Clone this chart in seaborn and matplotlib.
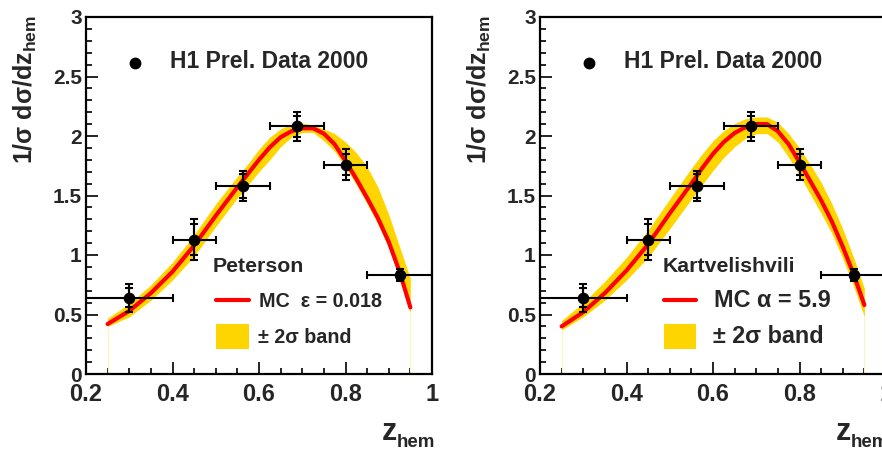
import matplotlib
matplotlib.use("Agg")
import numpy as np
import seaborn as sns
import matplotlib.pyplot as plt
from matplotlib.patches import Rectangle
from matplotlib.ticker import MultipleLocator, FormatStrFormatter

# H1 data points (z_hem bins)
z_data = [0.30, 0.45, 0.5625, 0.6875, 0.80, 0.925]
z_left = [0.20, 0.40, 0.50, 0.625, 0.75, 0.85]
z_right = [0.40, 0.50, 0.625, 0.75, 0.85, 1.00]
dsig = [0.64, 1.13, 1.58, 2.08, 1.76, 0.83]
err_stat = [0.08, 0.13, 0.10, 0.09, 0.09, 0.03]
err_tot = [0.115, 0.17, 0.125, 0.12, 0.13, 0.05]

# MC curves
z_mc = [0.25, 0.30, 0.35, 0.40, 0.45, 0.50, 0.55, 0.575, 0.60, 0.625, 0.65, 0.675,
        0.70, 0.725, 0.75, 0.775, 0.80, 0.825, 0.85, 0.875, 0.90, 0.925, 0.95]

# Peterson, eps = 0.018
pet_mc = [0.42, 0.53, 0.68, 0.86, 1.08, 1.33, 1.57, 1.685, 1.80, 1.905, 1.99, 2.04,
          2.065, 2.065, 2.02, 1.93, 1.79, 1.64, 1.48, 1.31, 1.11, 0.86, 0.56]
pet_hi = [0.47, 0.59, 0.75, 0.94, 1.17, 1.43, 1.66, 1.77, 1.89, 1.99, 2.06, 2.10,
          2.11, 2.09, 2.06, 2.02, 1.95, 1.86, 1.74, 1.57, 1.34, 1.07, 0.80]
pet_lo = [0.40, 0.48, 0.62, 0.79, 0.99, 1.24, 1.48, 1.59, 1.70, 1.80, 1.91, 1.99,
          2.03, 2.03, 1.96, 1.87, 1.74, 1.59, 1.43, 1.26, 1.06, 0.81, 0.51]

# Kartvelishvili, alpha = 5.9
kar_mc = [0.40, 0.52, 0.68, 0.87, 1.09, 1.35, 1.60, 1.73, 1.85, 1.95, 2.025, 2.075,
          2.10, 2.10, 2.04, 1.93, 1.78, 1.62, 1.46, 1.28, 1.07, 0.84, 0.58]
kar_hi = [0.45, 0.60, 0.78, 0.98, 1.21, 1.47, 1.73, 1.85, 1.96, 2.045, 2.105, 2.145,
          2.16, 2.16, 2.115, 2.02, 1.90, 1.76, 1.61, 1.43, 1.22, 0.98, 0.72]
kar_lo = [0.37, 0.48, 0.62, 0.79, 0.98, 1.22, 1.47, 1.59, 1.71, 1.82, 1.91, 1.98,
          2.02, 2.02, 1.95, 1.82, 1.67, 1.51, 1.35, 1.18, 0.97, 0.74, 0.48]

RED = "#ff0000"
YELLOW = "#ffd500"

sns.set_style("white")
plt.rcParams["font.family"] = ["Liberation Sans", "DejaVu Sans"]
plt.rcParams["font.weight"] = "bold"
plt.rcParams["mathtext.fontset"] = "custom"
plt.rcParams["mathtext.rm"] = "Liberation Sans:bold"
plt.rcParams["mathtext.it"] = "Liberation Sans:bold"
plt.rcParams["mathtext.bf"] = "Liberation Sans:bold"

fig = plt.figure(figsize=(8.82, 4.5), dpi=100)


def draw_panel(ax, mc, lo, hi, model, mc_text, leg):
    xl = np.array(z_left)
    xr = np.array(z_right)
    xc = np.array(z_data)

    ax.fill_between(z_mc, lo, hi, color=YELLOW, lw=0, zorder=1)
    ax.vlines([z_mc[0], z_mc[-1]], 0, [lo[0], lo[-1]], color="#fff3b8", lw=0.8, zorder=1)
    sns.lineplot(x=z_mc, y=mc, ax=ax, color=RED, lw=3, zorder=2)

    ax.errorbar(xc, dsig, xerr=[xc - xl, xr - xc], yerr=err_tot, fmt="none",
                ecolor="k", elinewidth=1.5, capsize=3, capthick=1.5, zorder=3)
    ax.errorbar(xc, dsig, yerr=err_stat, fmt="none",
                ecolor="k", elinewidth=1.5, capsize=3, capthick=1.5, zorder=3)
    sns.scatterplot(x=z_data, y=dsig, ax=ax, color="k", s=60, edgecolor="k", zorder=4)

    ax.set_xlim(0.2, 1.0)
    ax.set_ylim(0, 3)
    ax.xaxis.set_major_locator(MultipleLocator(0.2))
    ax.xaxis.set_minor_locator(MultipleLocator(0.05))
    ax.yaxis.set_major_locator(MultipleLocator(0.5))
    ax.yaxis.set_minor_locator(MultipleLocator(0.1))
    ax.xaxis.set_major_formatter(FormatStrFormatter("%g"))
    ax.yaxis.set_major_formatter(FormatStrFormatter("%g"))
    ax.tick_params(which="both", direction="in", top=False, right=False,
                   bottom=True, left=True, width=1.2, color="k")
    ax.tick_params(which="major", length=8.5)
    ax.tick_params(which="minor", length=4.3)
    ax.tick_params(axis="x", which="major", labelsize=17, pad=6.5)
    ax.tick_params(axis="y", which="major", labelsize=15, pad=3)
    for lab in ax.get_xticklabels() + ax.get_yticklabels():
        lab.set_fontweight("bold")
    for sp in ax.spines.values():
        sp.set_visible(True)
        sp.set_color("k")
        sp.set_linewidth(1.6)
    ax.set_xlabel("")
    ax.set_ylabel("")

    # axis titles
    ax.text(-0.175, 1.006, "1/σ dσ/dz$_{\\mathrm{hem}}$", transform=ax.transAxes,
            rotation=90, ha="center", va="top", fontsize=18, fontweight="bold")
    ax.text(0.899, -0.185, "z", transform=ax.transAxes,
            ha="right", va="baseline", fontsize=22, fontweight="bold")
    ax.text(0.899, -0.2045, "hem", transform=ax.transAxes,
            ha="left", va="baseline", fontsize=13.5, fontweight="bold")

    # legend block
    ax.plot([0.1416], [0.871], "o", color="k", ms=7.5, transform=ax.transAxes,
            clip_on=False)
    ax.text(0.2428, 0.856, "H1 Prel. Data 2000", transform=ax.transAxes,
            ha="left", va="baseline", fontsize=16.5, fontweight="bold")
    ax.text(model[1], 0.2857, model[0], transform=ax.transAxes,
            ha="left", va="baseline", fontsize=15.3, fontweight="bold")
    size, lx0, lx1, tx = leg
    ax.plot([lx0, lx1], [0.2073, 0.2073], color=RED, lw=3, transform=ax.transAxes,
            clip_on=False)
    ax.text(tx, 0.187, mc_text, transform=ax.transAxes,
            ha="left", va="baseline", fontsize=size, fontweight="bold")
    ax.add_patch(Rectangle((lx0, 0.070), lx1 - lx0, 0.070, transform=ax.transAxes,
                           facecolor=YELLOW, edgecolor="none", clip_on=False))
    ax.text(tx - 0.003, 0.0859, "± 2σ band", transform=ax.transAxes,
            ha="left", va="baseline", fontsize=size, fontweight="bold")


ax1 = fig.add_axes([86 / 882, 76 / 450, 346 / 882, 357 / 450])
draw_panel(ax1, pet_mc, pet_lo, pet_hi, ("Peterson", 0.367), "MC  ε = 0.018",
           (14.2, 0.3757, 0.4711, 0.50))

ax2 = fig.add_axes([540 / 882, 76 / 450, 346 / 882, 357 / 450])
draw_panel(ax2, kar_mc, kar_lo, kar_hi, ("Kartvelishvili", 0.3555), "MC α = 5.9",
           (16.8, 0.3584, 0.4509, 0.503))

fig.savefig("out.png", dpi=100)
